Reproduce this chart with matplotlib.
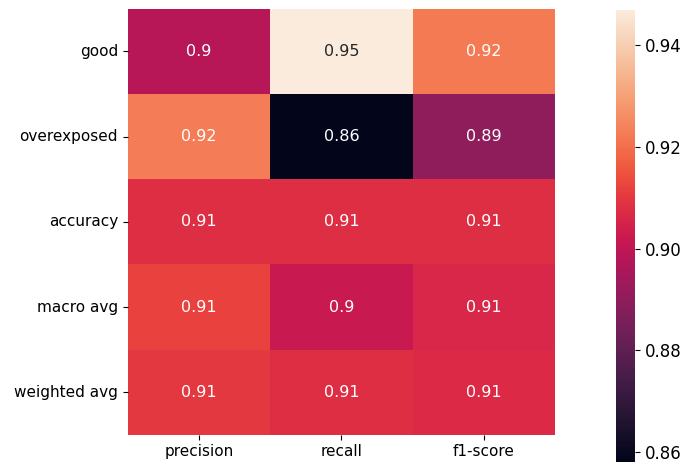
import matplotlib
matplotlib.use("Agg")
from matplotlib import pyplot as plt
import numpy as np
import seaborn as sns

rows = ["good", "overexposed", "accuracy", "macro avg", "weighted avg"]
cols = ["precision", "recall", "f1-score"]

precision = [0.898, 0.923, 0.908, 0.912, 0.910]
recall = [0.947, 0.858, 0.908, 0.902, 0.908]
f1_score = [0.922, 0.890, 0.908, 0.906, 0.907]

data = np.array([precision, recall, f1_score]).T

fig = plt.figure(figsize=(6.87, 4.68), dpi=100)
ax = fig.add_axes([0.186, 0.071, 0.622, 0.910])
cax = fig.add_axes([0.896, 0.013, 0.029, 0.966])

sns.heatmap(data, annot=True, xticklabels=cols, yticklabels=rows,
            ax=ax, cbar_ax=cax, annot_kws={"fontsize": 11.5})
ax.tick_params(labelsize=11)
cax.tick_params(labelsize=12)
cax.set_yticks([0.86, 0.88, 0.90, 0.92, 0.94])
cax.set_yticklabels(["0.86", "0.88", "0.90", "0.92", "0.94"])
plt.setp(ax.get_yticklabels(), rotation=0)

fig.savefig("out.png", dpi=100)
